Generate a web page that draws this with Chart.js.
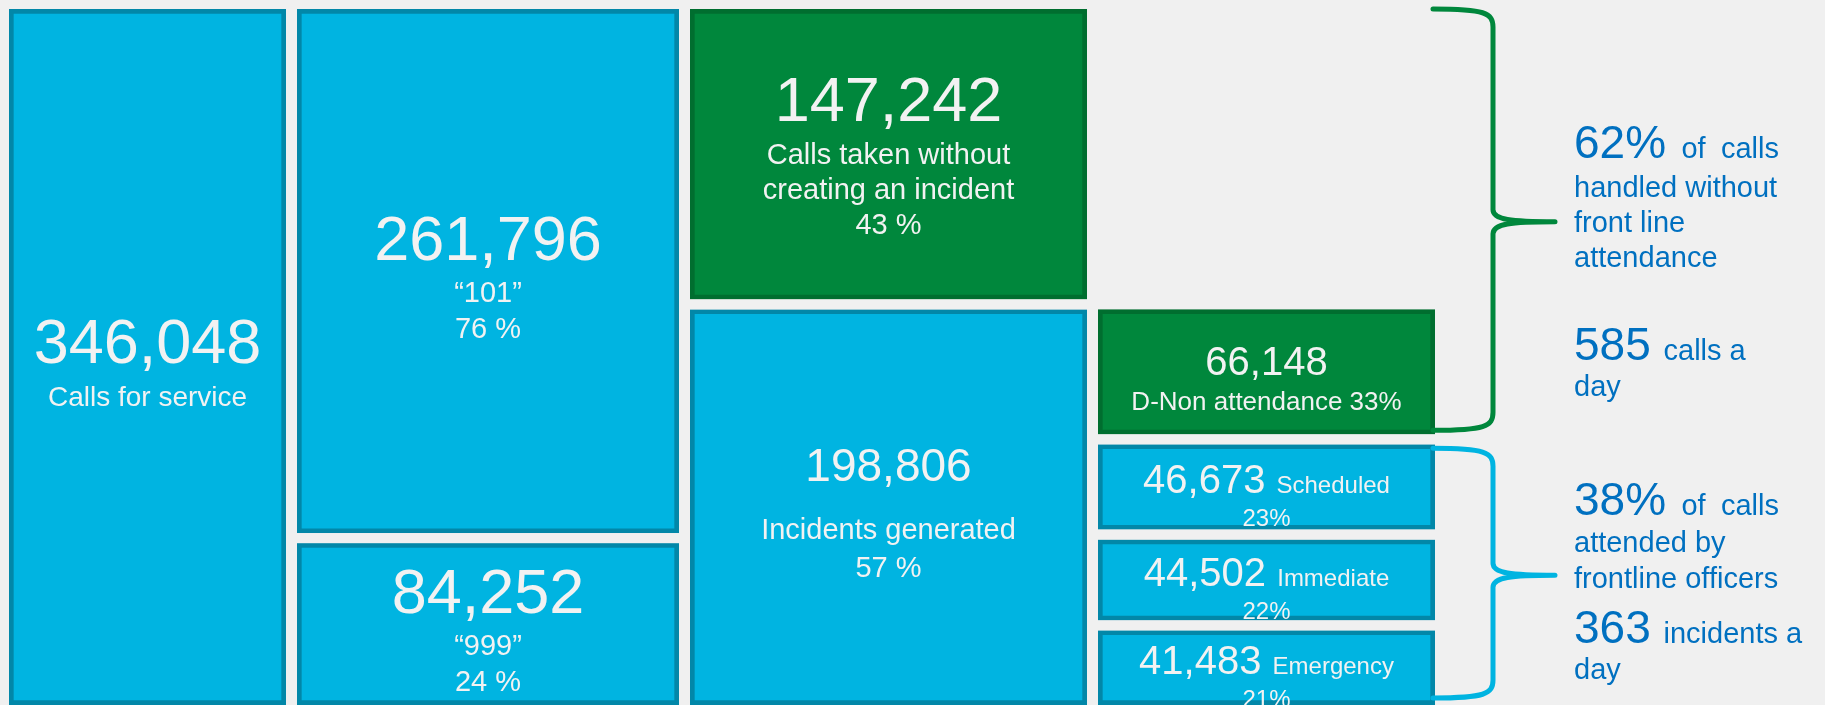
<!DOCTYPE html>
<html>
<head>
<meta charset="utf-8">
<title>Calls for service</title>
<script src="https://cdn.jsdelivr.net/npm/chart.js@4.4.1/dist/chart.umd.min.js"></script>
<style>
  html, body { margin: 0; padding: 0; background: #f0f0f0; overflow: hidden; }
  #wrap { width: 1825px; height: 705px; overflow: hidden; }
  #callsChart { display: block; }
</style>
</head>
<body>
<!-- canvas is a few px taller than the page so the bottom boxes run off the edge -->
<div id="wrap"><canvas id="callsChart" width="1825" height="710"></canvas></div>
<script>
// ---- data ----
const totalLabel = 'Calls for service';
const channelLabels = ['“101”', '“999”'];
const channelCalls = [261796, 84252];
const outcomeLabels = [['Calls taken without', 'creating an incident'], ['Incidents generated']];
const outcomeCalls = [147242, 198806];
const gradeLabels = ['D-Non attendance', 'Scheduled', 'Immediate', 'Emergency'];
const gradeIncidents = [66148, 46673, 44502, 41483];
const daysInPeriod = 365;

const totalCalls = channelCalls.reduce((a, b) => a + b, 0);
const incidentsTotal = outcomeCalls[1];
const notAttended = outcomeCalls[0] + gradeIncidents[0];
const attended = incidentsTotal - gradeIncidents[0];

// ---- look ----
const BLUE = '#00b4e1', BLUE_EDGE = '#0287a8';
const GREEN = '#00873c', GREEN_EDGE = '#006e2f';
const BG = '#f0f0f0', INK = '#f2f2f2', NOTE = '#0070c0';
const FONT = '"Liberation Sans", Arial, Helvetica, sans-serif';
const GAP = 10;

// column slots on the x axis (each slot holds half a gap on both sides)
const columns = [
  { center: 147.5, width: 287 },
  { center: 488, width: 392 },
  { center: 888.5, width: 407 },
  { center: 1266.5, width: 347 }
];

const fmt = n => n.toLocaleString('en-US');
const pct = (v, of) => Math.round(v / of * 100);

function box(col, value, green, lines, gaps, shift) {
  return {
    data: [{ x: columns[col].center, y: value }],
    barThickness: columns[col].width,
    backgroundColor: green ? GREEN : BLUE,
    borderColor: green ? GREEN_EDGE : BLUE_EDGE,
    borderWidth: GAP,
    borderSkipped: false,
    labelLines: lines,
    lineGaps: gaps,
    labelShift: shift
  };
}

const datasets = [];

// column 1: all calls
datasets.push(box(0, totalCalls, false,
  [[{ t: fmt(totalCalls), s: 63 }], [{ t: totalLabel, s: 28 }]], [43], 5));

// column 2: channels, stacked bottom-up
[1, 0].forEach(i => {
  datasets.push(box(1, channelCalls[i], false, [
    [{ t: fmt(channelCalls[i]), s: 63 }],
    [{ t: channelLabels[i], s: 29 }],
    [{ t: pct(channelCalls[i], totalCalls) + ' %', s: 29 }]
  ], [42, 36], 5));
});

// column 3: outcome, incidents at the bottom
datasets.push(box(2, outcomeCalls[1], false, [
  [{ t: fmt(outcomeCalls[1]), s: 46 }],
  ...outcomeLabels[1].map(t => [{ t, s: 29 }]),
  [{ t: pct(outcomeCalls[1], totalCalls) + ' %', s: 29 }]
], [58, 38], 5));
datasets.push(box(2, outcomeCalls[0], true, [
  [{ t: fmt(outcomeCalls[0]), s: 63 }],
  ...outcomeLabels[0].map(t => [{ t, s: 29 }]),
  [{ t: pct(outcomeCalls[0], totalCalls) + ' %', s: 29 }]
], [43, 35, 35], 1));

// column 4: response grades, emergency at the bottom
[3, 2, 1].forEach(i => {
  datasets.push(box(3, gradeIncidents[i], false, [
    [{ t: fmt(gradeIncidents[i]) + ' ', s: 40 }, { t: gradeLabels[i], s: 24 }],
    [{ t: pct(gradeIncidents[i], incidentsTotal) + '%', s: 24 }]
  ], [33], 8));
});
datasets.push(box(3, gradeIncidents[0], true, [
  [{ t: fmt(gradeIncidents[0]), s: 40 }],
  [{ t: gradeLabels[0] + ' ' + pct(gradeIncidents[0], incidentsTotal) + '%', s: 26 }]
], [35], 6));

// draws runs of text with mixed sizes on one baseline
function drawRuns(ctx, runs, x, y, align, fitWidth) {
  const widths = runs.map(r => {
    ctx.font = r.s + 'px ' + FONT;
    return ctx.measureText(r.t).width;
  });
  let total = widths.reduce((a, b) => a + b, 0);
  let extra = 0;
  if (fitWidth && runs.length > 1) {
    extra = (fitWidth - total) / (runs.length - 1);
    total = fitWidth;
  }
  let cx = align === 'center' ? x - total / 2 : x;
  ctx.textAlign = 'left';
  runs.forEach((r, i) => {
    ctx.font = r.s + 'px ' + FONT;
    ctx.fillText(r.t, cx, y);
    cx += widths[i] + extra;
  });
}

const boxLabels = {
  id: 'boxLabels',
  afterDatasetsDraw(chart) {
    const ctx = chart.ctx;
    ctx.save();
    // space between the boxes
    ctx.strokeStyle = BG;
    ctx.lineWidth = GAP;
    chart.data.datasets.forEach((ds, i) => {
      chart.getDatasetMeta(i).data.forEach(bar => {
        const { x, y, base, width } = bar.getProps(['x', 'y', 'base', 'width'], true);
        ctx.strokeRect(x - width / 2, Math.min(y, base), width, Math.abs(base - y));
      });
    });
    // labels, block centred in each box
    ctx.fillStyle = INK;
    ctx.textBaseline = 'alphabetic';
    chart.data.datasets.forEach((ds, i) => {
      chart.getDatasetMeta(i).data.forEach(bar => {
        const { x, y, base } = bar.getProps(['x', 'y', 'base'], true);
        const cap = ds.labelLines[0][0].s * 0.716;
        const blockH = cap + ds.lineGaps.reduce((a, b) => a + b, 0);
        let by = (y + base) / 2 + ds.labelShift - blockH / 2 + cap;
        ds.labelLines.forEach((runs, li) => {
          if (li > 0) by += ds.lineGaps[li - 1];
          drawRuns(ctx, runs, x, by, 'center');
        });
      });
    });
    ctx.restore();
  }
};

// braces on the right with their notes
const braceX = { start: 1433, spine: 1493, tip: 1555, text: 1574, textWidth: 205 };
const braces = [
  {
    from: totalCalls, to: attended, color: GREEN,
    notes: [
      { dy: -62, justify: true, runs: [{ t: pct(notAttended, totalCalls) + '%', s: 46 }, { t: 'of', s: 29 }, { t: 'calls', s: 29 }] },
      { dy: -23, runs: [{ t: 'handled without', s: 29 }] },
      { dy: 12, runs: [{ t: 'front line', s: 29 }] },
      { dy: 47, runs: [{ t: 'attendance', s: 29 }] },
      { dy: 140, runs: [{ t: Math.round(notAttended / daysInPeriod) + ' ', s: 46 }, { t: 'calls a', s: 29 }] },
      { dy: 176, runs: [{ t: 'day', s: 29 }] }
    ]
  },
  {
    from: attended, to: 0, color: BLUE,
    notes: [
      { dy: -58, justify: true, runs: [{ t: pct(attended, totalCalls) + '%', s: 46 }, { t: 'of', s: 29 }, { t: 'calls', s: 29 }] },
      { dy: -21, runs: [{ t: 'attended by', s: 29 }] },
      { dy: 15, runs: [{ t: 'frontline officers', s: 29 }] },
      { dy: 70, runs: [{ t: Math.round(attended / daysInPeriod) + ' ', s: 46 }, { t: 'incidents a', s: 29 }] },
      { dy: 106, runs: [{ t: 'day', s: 29 }] }
    ]
  }
];

function drawBrace(ctx, y0, y1, color) {
  const { start: xs, spine: xv, tip: xt } = braceX;
  const ym = (y0 + y1) / 2 + 2;
  ctx.strokeStyle = color;
  ctx.lineWidth = 5;
  ctx.lineCap = 'round';
  ctx.lineJoin = 'round';
  ctx.beginPath();
  ctx.moveTo(xs, y0);
  ctx.bezierCurveTo(xv - 8, y0, xv, y0 + 4, xv, y0 + 18);
  ctx.lineTo(xv, ym - 12);
  ctx.bezierCurveTo(xv, ym - 2, xv + 18, ym, xt, ym);
  ctx.moveTo(xt, ym);
  ctx.bezierCurveTo(xv + 18, ym, xv, ym + 2, xv, ym + 12);
  ctx.lineTo(xv, y1 - 18);
  ctx.bezierCurveTo(xv, y1 - 4, xv - 8, y1, xs, y1);
  ctx.stroke();
}

const braceNotes = {
  id: 'braceNotes',
  afterDatasetsDraw(chart) {
    const ctx = chart.ctx;
    const yScale = chart.scales.y;
    ctx.save();
    braces.forEach(b => {
      const y0 = yScale.getPixelForValue(b.from) + (b.from === totalCalls ? 5 : 9);
      const y1 = yScale.getPixelForValue(b.to) - (b.to === 0 ? 12 : 9);
      drawBrace(ctx, y0, y1, b.color);
      const mid = (y0 + y1) / 2;
      ctx.fillStyle = NOTE;
      ctx.textBaseline = 'alphabetic';
      b.notes.forEach(n => {
        drawRuns(ctx, n.runs, braceX.text, mid + n.dy, 'left', n.justify ? braceX.textWidth : 0);
      });
    });
    ctx.restore();
  }
};

new Chart(document.getElementById('callsChart'), {
  type: 'bar',
  data: { datasets },
  options: {
    responsive: false,
    animation: false,
    devicePixelRatio: 1,
    events: [],
    layout: { padding: { top: 4, bottom: 0, left: 0, right: 0 } },
    plugins: { legend: { display: false }, tooltip: { enabled: false } },
    scales: {
      x: { type: 'linear', min: 0, max: 1825, offset: false, stacked: true, display: false, grid: { offset: false } },
      y: { min: 0, max: totalCalls, stacked: true, display: false }
    }
  },
  plugins: [boxLabels, braceNotes]
});
</script>
</body>
</html>
